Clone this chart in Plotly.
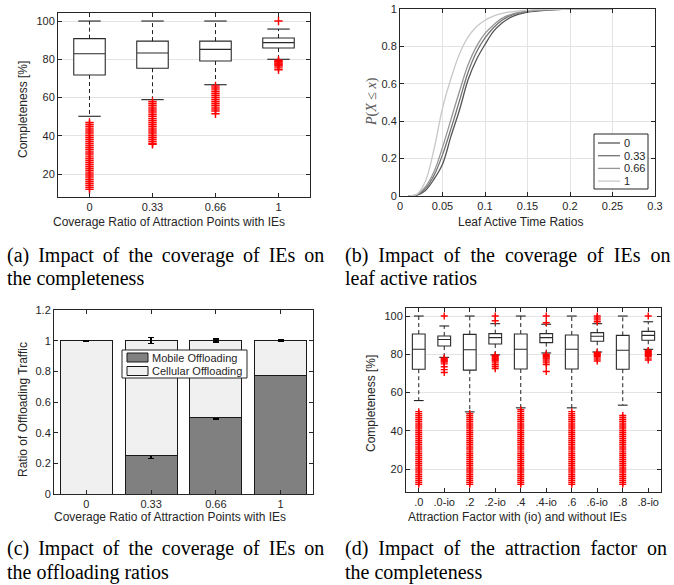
import plotly.graph_objects as go

# ---------------- (a) completeness vs coverage ----------------
a_cats = ['0', '0.33', '0.66', '1']
a_q1 = [71.8, 75.3, 79.1, 85.9]
a_med = [82.9, 83.3, 85.2, 88.7]
a_q3 = [90.8, 89.5, 89.5, 91.1]
a_lo = [50.2, 58.9, 66.7, 80.0]
a_hi = [100, 100, 100, 95.8]
a_out_0 = [12, 13, 14, 15, 16, 17, 18, 19, 20, 21, 22, 23, 24, 25, 26, 27, 28, 29,
           30, 31, 32, 33, 34, 35, 36, 37, 38, 39, 40, 41, 42, 43, 44, 45, 46, 47]
a_out_033 = [35.5, 36, 37, 38, 39, 40, 41, 42, 43, 44, 45, 46, 47, 48, 49, 50, 51,
             52, 53, 54, 55, 56, 57, 58]
a_out_066 = [51.5, 53, 54, 55, 56, 57, 58, 59, 60, 61, 62, 63, 64, 65, 66]
a_out_1 = [100, 74.5, 75.5, 76.5, 77, 77.5, 78, 78.5, 79, 79.5]

# ---------------- (b) CDF of leaf active time ratios ----------------
b_x = [0.01, 0.02, 0.03, 0.04, 0.05, 0.06, 0.07, 0.08, 0.09, 0.10, 0.11, 0.12,
       0.13, 0.14, 0.15, 0.17, 0.20, 0.25]
b_y_0 = [0, 0.005, 0.03, 0.09, 0.17, 0.32, 0.46, 0.62, 0.73, 0.81, 0.88, 0.925,
         0.955, 0.972, 0.983, 0.993, 0.999, 1.0]
b_y_033 = [0, 0.006, 0.04, 0.11, 0.22, 0.36, 0.51, 0.66, 0.77, 0.845, 0.90, 0.94,
           0.965, 0.978, 0.986, 0.995, 1.0, 1.0]
b_y_066 = [0, 0.008, 0.05, 0.13, 0.26, 0.41, 0.56, 0.70, 0.80, 0.87, 0.915, 0.95,
           0.97, 0.982, 0.989, 0.996, 1.0, 1.0]
b_y_1 = [0, 0.01, 0.08, 0.25, 0.47, 0.63, 0.76, 0.85, 0.905, 0.94, 0.962, 0.976,
         0.985, 0.99, 0.994, 0.998, 1.0, 1.0]
b_names = ['0', '0.33', '0.66', '1']
b_colors = ['#555555', '#737373', '#969696', '#c8c8c8']

# ---------------- (c) offloading ratios ----------------
c_cats = ['0', '0.33', '0.66', '1']
c_mobile = [0.0, 0.25, 0.50, 0.775]
c_mobile_err = [0.002, 0.02, 0.01, 0.003]
c_cellular = [1.0, 0.75, 0.50, 0.225]
c_cellular_err = [0.002, 0.02, 0.01, 0.003]
c_names = ['Mobile Offloading', 'Cellular Offloading']
c_colors = ['#808080', '#f0f0f0']

# ---------------- (d) completeness vs attraction factor ----------------
d_cats = ['.0', '.0-io', '.2', '.2-io', '.4', '.4-io', '.6', '.6-io', '.8', '.8-io']
d_q1 = [72.2, 84.3, 71.7, 85.4, 72.3, 86.1, 72.3, 86.8, 72.2, 87.3]
d_med = [82.6, 87.7, 82.4, 88.7, 82.6, 88.7, 82.6, 89.4, 82.1, 89.9]
d_q3 = [90.6, 89.6, 90.4, 90.8, 90.6, 90.8, 90.1, 91.3, 89.9, 92.0]
d_lo = [55.8, 78.4, 49.9, 79.7, 52.0, 80.7, 52.0, 81.2, 53.4, 82.6]
d_hi = [100, 94.8, 100, 96.0, 100, 95.7, 100, 96.0, 100, 97.0]
d_out_00 = [12, 13, 14, 15, 16, 17, 18, 19, 20, 21, 22, 23, 24, 25, 26, 27, 28, 29,
            30, 31, 32, 33, 34, 35, 36, 37, 38, 39, 40, 41, 42, 43, 44, 45, 46, 47,
            48, 49, 50]
d_out_00io = [100, 70.5, 72, 73.5, 75, 76, 76.5, 77, 77.5, 78]
d_out_02 = [12, 13, 14, 15, 16, 17, 18, 19, 20, 21, 22, 23, 24, 25, 26, 27, 28, 29,
            30, 31, 32, 33, 34, 35, 36, 37, 38, 39, 40, 41, 42, 43, 44, 45, 46, 47,
            48, 49]
d_out_02io = [100, 97.5, 72.5, 73.5, 74.5, 75.5, 76.5, 77, 77.5, 78, 78.5, 79, 79.5]
d_out_04 = [12, 13, 14, 15, 16, 17, 18, 19, 20, 21, 22, 23, 24, 25, 26, 27, 28, 29,
            30, 31, 32, 33, 34, 35, 36, 37, 38, 39, 40, 41, 42, 43, 44, 45, 46, 47,
            48, 49, 50, 51]
d_out_04io = [100, 96.5, 71, 74.6, 75.5, 76.5, 77.5, 78, 78.5, 79, 79.5, 80]
d_out_06 = [12, 13, 14, 15, 16, 17, 18, 19, 20, 21, 22, 23, 24, 25, 26, 27, 28, 29,
            30, 31, 32, 33, 34, 35, 36, 37, 38, 39, 40, 41, 42, 43, 44, 45, 46, 47,
            48, 49, 50]
d_out_06io = [100, 99, 98, 97, 81, 80.5, 80, 79.5, 79, 78.5, 77.5, 76.5]
d_out_08 = [12, 13, 14, 15, 16, 17, 18, 19, 20, 21, 22, 23, 24, 25, 26, 27, 28, 29,
            30, 31, 32, 33, 34, 35, 36, 37, 38, 39, 40, 41, 42, 43, 44, 45, 46, 47, 48]
d_out_08io = [100, 82, 81.5, 81, 80.5, 80, 79.5, 79, 78, 77]

captions = [
    ("(a) Impact of the coverage of IEs on", "the completeness"),
    ("(b) Impact of the coverage of IEs on", "leaf active ratios"),
    ("(c) Impact of the coverage of IEs on", "the offloading ratios"),
    ("(d) Impact of the attraction factor on", "the completeness"),
]

SANS = "Liberation Sans, Arial, sans-serif"
SERIF = "Liberation Serif, Times New Roman, serif"
AX = '#262626'
GRID = '#e3e3e3'
W, H = 674, 585


def px(x):
    return x / W


def py(y):
    return 1 - y / H


fig = go.Figure()


def add_boxplot(cats, q1, med, q3, lo, hi, outs, xa, ya, cap_size, out_size):
    fig.add_trace(go.Box(x=cats, q1=q1, median=med, q3=q3, lowerfence=q1,
                         upperfence=q3, width=0.5, whiskerwidth=0,
                         line=dict(color='#2a2a2a', width=1.1), fillcolor='white',
                         boxpoints=False, showlegend=False, xaxis=xa, yaxis=ya,
                         hoverinfo='skip'))
    wx, wy = [], []
    for c, a, b, l, h in zip(cats, q1, q3, lo, hi):
        wx += [c, c, None, c, c, None]
        wy += [b, h, None, a, l, None]
    fig.add_trace(go.Scatter(x=wx, y=wy, mode='lines', showlegend=False,
                             line=dict(color='#222222', width=1, dash='4px,3px'),
                             xaxis=xa, yaxis=ya, hoverinfo='skip'))
    fig.add_trace(go.Scatter(x=list(cats) + list(cats), y=list(hi) + list(lo),
                             mode='markers', showlegend=False,
                             marker=dict(symbol='line-ew', size=cap_size,
                                         line=dict(color='#222222', width=1.1)),
                             xaxis=xa, yaxis=ya, hoverinfo='skip'))
    ox, oy = [], []
    for c, lst in zip(cats, outs):
        ox += [c] * len(lst)
        oy += list(lst)
    fig.add_trace(go.Scatter(x=ox, y=oy, mode='markers', showlegend=False,
                             marker=dict(symbol='cross-thin', size=out_size,
                                         line=dict(color='#ff0000', width=1.4)),
                             xaxis=xa, yaxis=ya, hoverinfo='skip'))


# (a)
add_boxplot(a_cats, a_q1, a_med, a_q3, a_lo, a_hi,
            [a_out_0, a_out_033, a_out_066, a_out_1], 'x', 'y', 16, 6)

# (b)
for name, ys, col in zip(b_names, [b_y_0, b_y_033, b_y_066, b_y_1], b_colors):
    fig.add_trace(go.Scatter(x=b_x, y=ys, mode='lines', name=name, showlegend=False,
                             line=dict(color=col, width=1.3, shape='spline'),
                             xaxis='x2', yaxis='y2'))

# (c)
for name, ys, err, col in zip(c_names, [c_mobile, c_cellular],
                              [c_mobile_err, c_cellular_err], c_colors):
    fig.add_trace(go.Bar(x=c_cats, y=ys, name=name, showlegend=False,
                         marker=dict(color=col, line=dict(color='#1a1a1a', width=1)),
                         error_y=dict(type='data', array=err, color='black',
                                      thickness=1.5, width=3),
                         xaxis='x3', yaxis='y3'))

# (d)
add_boxplot(d_cats, d_q1, d_med, d_q3, d_lo, d_hi,
            [d_out_00, d_out_00io, d_out_02, d_out_02io, d_out_04, d_out_04io,
             d_out_06, d_out_06io, d_out_08, d_out_08io], 'x4', 'y4', 7, 5)


def axstyle(**kw):
    base = dict(showline=True, linecolor=AX, linewidth=1, mirror='ticks',
                ticks='inside', ticklen=4, tickcolor=AX, tickwidth=1,
                zeroline=False, automargin=False, showgrid=False,
                tickfont=dict(family=SANS, size=11, color=AX))
    base.update(kw)
    return base


def dx(a, b):
    return [a / W, b / W]


def dy(top, bottom):
    return [1 - bottom / H, 1 - top / H]


fig.update_layout(
    width=W, height=H, template='none',
    margin=dict(l=0, r=0, t=0, b=0),
    paper_bgcolor='white', plot_bgcolor='white',
    barmode='stack', bargap=0.2, showlegend=False,
    xaxis=axstyle(domain=dx(58, 310), anchor='y', type='category', range=[-0.5, 3.5]),
    yaxis=axstyle(domain=dy(13, 197), anchor='x', range=[8, 104.2],
                  tickvals=[20, 40, 60, 80, 100], showgrid=True, gridcolor=GRID),
    xaxis2=axstyle(domain=dx(400, 655), anchor='y2', range=[0, 0.3],
                   tickvals=[0, 0.05, 0.1, 0.15, 0.2, 0.25, 0.3], showgrid=True,
                   gridcolor=GRID),
    yaxis2=axstyle(domain=dy(9, 196), anchor='x2', range=[0, 1],
                   tickvals=[0, 0.2, 0.4, 0.6, 0.8, 1], showgrid=True, gridcolor=GRID),
    xaxis3=axstyle(domain=dx(54, 313), anchor='y3', type='category', range=[-0.5, 3.5]),
    yaxis3=axstyle(domain=dy(310, 494), anchor='x3', range=[0, 1.2],
                   tickvals=[0, 0.2, 0.4, 0.6, 0.8, 1, 1.2]),
    xaxis4=axstyle(domain=dx(406, 661), anchor='y4', type='category', range=[-0.5, 9.5]),
    yaxis4=axstyle(domain=dy(308, 492), anchor='x4', range=[8, 104.2],
                   tickvals=[20, 40, 60, 80, 100], showgrid=True, gridcolor=GRID),
)

tf = dict(family=SANS, size=12, color=AX)
# axis titles
x_titles = [('Coverage Ratio of Attraction Points with IEs', 169, 222),
            ('Leaf Active Time Ratios', 520, 222),
            ('Coverage Ratio of Attraction Points with IEs', 170, 517),
            ('Attraction Factor with (io) and without IEs', 517, 517)]
for t, x0, y0 in x_titles:
    fig.add_annotation(text=t, x=px(x0), y=py(y0), xref='paper', yref='paper',
                       xanchor='center', yanchor='middle', showarrow=False, font=tf)
y_titles = [('Completeness [%]', 23, 110, tf),
            ('<i>P</i>(<i>X</i> ≤ <i>x</i>)', 372, 102,
             dict(family=SERIF, size=14, color='#555555')),
            ('Ratio of Offloading Traffic', 23, 410, tf),
            ('Completeness [%]', 371, 404, tf)]
for t, x0, y0, f in y_titles:
    fig.add_annotation(text=t, x=px(x0), y=py(y0), xref='paper', yref='paper',
                       xanchor='center', yanchor='middle', showarrow=False,
                       textangle=-90, font=f)

# legend for (b)
fig.add_shape(type='rect', xref='paper', yref='paper', x0=px(594), x1=px(648),
              y0=py(189), y1=py(134), fillcolor='white', line=dict(color=AX, width=1),
              layer='above')
for i, (name, col) in enumerate(zip(b_names, b_colors)):
    yy = 143 + i * 12.7
    fig.add_shape(type='line', xref='paper', yref='paper', x0=px(598), x1=px(620),
                  y0=py(yy), y1=py(yy), line=dict(color=col, width=1.3), layer='above')
    fig.add_annotation(text=name, x=px(622), y=py(yy), xref='paper', yref='paper',
                       xanchor='left', yanchor='middle', showarrow=False,
                       font=dict(family=SANS, size=11, color=AX))

# legend for (c)
fig.add_shape(type='rect', xref='paper', yref='paper', x0=px(122), x1=px(247),
              y0=py(378), y1=py(350), fillcolor='white', line=dict(color=AX, width=1),
              layer='above')
for i, (name, col) in enumerate(zip(c_names, c_colors)):
    yc = 357.5 + i * 13.5
    fig.add_shape(type='rect', xref='paper', yref='paper', x0=px(127), x1=px(148),
                  y0=py(yc + 4.5), y1=py(yc - 4.5), fillcolor=col,
                  line=dict(color='#1a1a1a', width=1), layer='above')
    fig.add_annotation(text=name, x=px(150), y=py(yc), xref='paper', yref='paper',
                       xanchor='left', yanchor='middle', showarrow=False,
                       font=dict(family=SANS, size=11, color=AX))

# captions (first line justified across the column like the LaTeX original)
cap_pos = [(5, 255, 278, '\u2009'), (343, 255, 278, '\u2005'),
           (5, 548, 572, '\u2009'), (343, 548, 572, '\u2005')]
for (l1, l2), (x0, y1, y2, extra) in zip(captions, cap_pos):
    for txt, yy in ((l1.replace(' ', ' ' + extra), y1), (l2, y2)):
        fig.add_annotation(text=txt, x=px(x0), y=py(yy), xref='paper', yref='paper',
                           xanchor='left', yanchor='middle', showarrow=False,
                           font=dict(family=SERIF, size=20, color='black'))

fig.write_html("out.html", config={'displayModeBar': False},
               post_script="document.body.style.margin='0';")
